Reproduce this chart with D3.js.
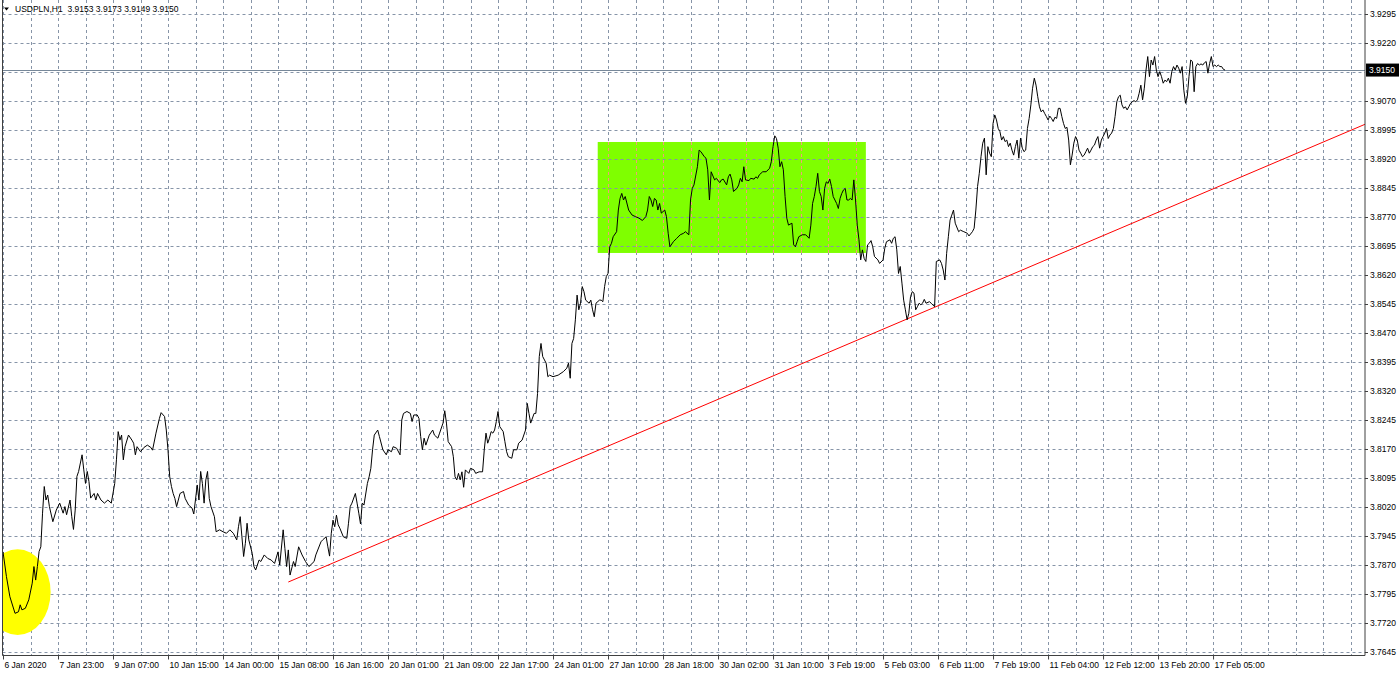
<!DOCTYPE html>
<html>
<head>
<meta charset="utf-8">
<script src="https://cdn.jsdelivr.net/npm/d3@7"></script>
<style>
    body { margin: 0; background: #fff; }
    svg { display: block; font-family: "Liberation Sans", Arial, sans-serif; }
</style>
</head>
<body>
<svg id="chart" width="1400" height="674"></svg>
<script>
// USDPLN H1 closes (bar = hours since first bar)
const symbolTitle = "USDPLN,H1  3.9153 3.9173 3.9149 3.9150";

const tickLabels = ["6 Jan 2020", "7 Jan 23:00", "9 Jan 07:00", "10 Jan 15:00", "14 Jan 00:00",
    "15 Jan 08:00", "16 Jan 16:00", "20 Jan 01:00", "21 Jan 09:00", "22 Jan 17:00", "24 Jan 01:00",
    "27 Jan 10:00", "28 Jan 18:00", "30 Jan 02:00", "31 Jan 10:00", "3 Feb 19:00", "5 Feb 03:00",
    "6 Feb 11:00", "7 Feb 19:00", "11 Feb 04:00", "12 Feb 12:00", "13 Feb 20:00", "17 Feb 05:00"];

const priceTicks = [3.9295, 3.9220, 3.9070, 3.8995, 3.8920, 3.8845, 3.8770, 3.8695, 3.8620,
    3.8545, 3.8470, 3.8395, 3.8320, 3.8245, 3.8170, 3.8095, 3.8020, 3.7945, 3.7870, 3.7795,
    3.7720, 3.7645];

const bars = [
    0, 2, 4, 7, 9, 10, 11, 13, 15, 17, 18, 19, 20, 21, 22, 23, 24, 25, 26, 27, 29, 31, 33, 35, 36, 37,
    39, 40, 41, 42, 43, 44, 46, 47, 48, 49, 50, 51, 53, 54, 55, 57, 59, 61, 63, 65, 66, 67, 68, 69, 70,
    71, 73, 75, 76, 77, 78, 80, 82, 84, 86, 87, 89, 91, 92, 94, 95, 96, 97, 98, 99, 100, 101, 103, 105,
    106, 108, 110, 111, 113, 114, 115, 116, 117, 118, 119, 120, 121, 123, 124, 126, 128, 130, 132, 134,
    136, 137, 138, 139, 140, 141, 142, 143, 145, 146, 147, 149, 150, 152, 154, 156, 158, 160, 161, 163,
    164, 165, 166, 167, 169, 170, 172, 174, 176, 178,
    181, 182, 185, 186, 188, 189, 190, 191, 192, 193, 194, 195, 196, 198, 200, 201, 202, 203, 205, 206,
    207, 208, 209, 210, 212, 213, 214, 215, 216, 218, 219, 221, 223, 224, 226, 227, 229, 231, 232, 233,
    235, 237, 238, 239, 241, 242, 243, 244, 245, 246, 248, 250, 251, 253, 254, 256, 257, 258, 259, 261,
    262, 263, 264, 265, 266, 267, 268, 269, 271, 272, 274, 275, 277, 279, 280, 281, 282, 283, 284, 285,
    286, 287, 288, 289, 291, 292, 293, 294, 296, 297, 299, 300, 302, 304, 305, 306, 307, 309, 310, 311,
    312, 313, 314, 316, 317, 318, 320, 323, 326, 328, 329, 330, 331, 332, 333, 334, 335, 336, 337, 338,
    339, 341, 342, 343, 344, 345, 347, 348,
    349, 350, 351, 352, 353, 354, 355, 357, 358, 359, 360, 361, 362, 364, 366, 368, 370, 372, 374, 375,
    376, 377, 378, 379, 380, 381, 382, 383, 385, 386, 387, 388, 390, 392, 394, 396, 397, 399, 400, 401,
    402, 404, 405, 406, 408, 409, 410, 411, 412, 414, 415, 417, 418, 419, 421, 422, 423, 424, 425, 427,
    428, 429, 430, 431, 432, 434, 435, 437, 438, 439, 440, 442, 444, 446, 447, 448, 449, 450, 451, 452,
    453, 454, 455, 456, 457, 459, 460, 461, 462, 463, 465, 467, 469, 470, 471, 472, 473, 474, 475, 476,
    477, 478, 479, 480, 481, 482, 483, 484, 485, 486, 487, 488, 489, 490, 491, 492, 493, 494, 495, 496,
    497, 498, 499, 500, 501, 502, 503, 504, 505, 506, 507, 509, 510, 512, 513, 514, 516, 517, 518, 519,
    520, 521, 522, 523, 524, 525, 526, 527, 528, 529, 530, 531, 532, 533, 534,
    535, 536, 537, 539, 540, 542, 543, 545, 546, 547, 548, 549, 550, 551, 552, 553, 554, 556, 557, 559,
    561, 562, 564, 565, 566, 567, 568, 569, 570, 571, 572, 573, 574, 575, 576, 577, 578, 579, 580, 581,
    582, 583, 584, 585, 586, 587, 588, 589, 590, 591, 592, 593, 594, 595, 596, 597, 598, 599, 600, 601,
    602, 603, 604, 605, 606, 607, 608, 609, 610, 611, 612, 613, 614, 615, 616, 617, 618, 619, 620, 621,
    622, 623, 624, 625, 626, 627, 628, 629, 630, 631, 632, 633, 634, 635, 636, 637, 638, 639, 640, 641,
    642, 643, 644, 645, 646, 647, 648, 649, 650, 651, 652, 653, 654, 655, 656, 657, 658, 659, 660, 661,
    662, 663, 664, 665, 666, 667, 668, 669, 670, 671, 672, 673, 674, 675, 676, 677, 678, 679, 680, 681,
    682, 683, 684, 685, 686, 687, 688, 689, 690, 691, 692, 693, 694, 695, 696, 697, 698, 699, 700, 701,
    702, 703, 704, 705, 706, 707, 708, 709, 710, 711];

const closes = [
    3.7904, 3.7840, 3.7788, 3.7745, 3.7749, 3.7767, 3.7754, 3.7758, 3.7780, 3.7823, 3.7866, 3.7831,
    3.7866, 3.7905, 3.7917, 3.8004, 3.8073, 3.8038, 3.8051, 3.8021, 3.7982, 3.8012, 3.8030, 3.8004,
    3.8021, 3.8000, 3.8038, 3.7995, 3.7962, 3.8012, 3.8099, 3.8112, 3.8155, 3.8116, 3.8081, 3.8112,
    3.8086, 3.8043, 3.8055, 3.8038, 3.8055, 3.8038, 3.8030, 3.8038, 3.8030, 3.8081, 3.8142, 3.8215,
    3.8193, 3.8206, 3.8142, 3.8176, 3.8206, 3.8193, 3.8185, 3.8155, 3.8176, 3.8163, 3.8174, 3.8180,
    3.8174, 3.8167, 3.8211, 3.8249, 3.8264, 3.8254, 3.8219, 3.8167, 3.8098, 3.8073, 3.8055, 3.8042,
    3.8021, 3.8055, 3.8060, 3.8042, 3.8025, 3.8017, 3.8002, 3.8077, 3.8038, 3.8112, 3.8081, 3.8030,
    3.8090, 3.8112, 3.8042, 3.8021, 3.7995, 3.7956, 3.7961, 3.7956, 3.7952, 3.7961, 3.7952, 3.7935,
    3.7969, 3.7995, 3.7943, 3.7892, 3.7926, 3.7978, 3.7935, 3.7900, 3.7866, 3.7857, 3.7883, 3.7879,
    3.7896, 3.7887, 3.7883, 3.7874, 3.7904, 3.7870, 3.7961, 3.7913, 3.7866, 3.7909, 3.7844, 3.7879,
    3.7866, 3.7917, 3.7896, 3.7879, 3.7866,
    3.7879, 3.7896, 3.7930, 3.7935, 3.7943, 3.7917, 3.7893, 3.7952, 3.7986, 3.7969, 3.7999, 3.7974,
    3.7965, 3.7943, 3.7939, 3.7978, 3.8021, 3.8030, 3.8055, 3.8030, 3.8004, 3.7976, 3.8030, 3.8025,
    3.8081, 3.8098, 3.8120, 3.8168, 3.8206, 3.8219, 3.8202, 3.8168, 3.8155, 3.8168, 3.8163, 3.8176,
    3.8172, 3.8155, 3.8245, 3.8262, 3.8267, 3.8262, 3.8241, 3.8258, 3.8258, 3.8249, 3.8202, 3.8168,
    3.8198, 3.8180, 3.8206, 3.8219, 3.8206, 3.8198, 3.8211, 3.8237, 3.8269, 3.8237, 3.8189, 3.8176,
    3.8150, 3.8098, 3.8090, 3.8107, 3.8090, 3.8111, 3.8071, 3.8116, 3.8107, 3.8120, 3.8116, 3.8107,
    3.8111, 3.8111, 3.8168, 3.8211, 3.8185, 3.8198, 3.8215, 3.8211, 3.8219, 3.8241, 3.8267, 3.8228,
    3.8215, 3.8189, 3.8163, 3.8150, 3.8146, 3.8168, 3.8168, 3.8185, 3.8193, 3.8219, 3.8288, 3.8262,
    3.8237, 3.8262, 3.8262, 3.8314, 3.8409, 3.8443, 3.8409, 3.8392, 3.8357, 3.8361, 3.8357, 3.8361,
    3.8370, 3.8379, 3.8392, 3.8353, 3.8443, 3.8456, 3.8504, 3.8568, 3.8530, 3.8547, 3.8590, 3.8577,
    3.8555, 3.8547, 3.8555, 3.8530, 3.8512, 3.8547, 3.8555, 3.8555,
    3.8551, 3.8590, 3.8616, 3.8624, 3.8693, 3.8702, 3.8719, 3.8732, 3.8788, 3.8818, 3.8831, 3.8814,
    3.8823, 3.8788, 3.8775, 3.8771, 3.8767, 3.8761, 3.8771, 3.8788, 3.8823, 3.8814, 3.8797, 3.8818,
    3.8814, 3.8788, 3.8805, 3.8780, 3.8788, 3.8771, 3.8728, 3.8693, 3.8706, 3.8715, 3.8724, 3.8728,
    3.8732, 3.8724, 3.8814, 3.8844, 3.8853, 3.8900, 3.8943, 3.8939, 3.8926, 3.8922, 3.8892, 3.8814,
    3.8887, 3.8866, 3.8870, 3.8859, 3.8866, 3.8868, 3.8853, 3.8874, 3.8881, 3.8866, 3.8836, 3.8844,
    3.8853, 3.8870, 3.8861, 3.8900, 3.8866, 3.8864, 3.8870, 3.8868, 3.8874, 3.8870, 3.8879, 3.8887,
    3.8887, 3.8896, 3.8913, 3.8952, 3.8980, 3.8973, 3.8948, 3.8900, 3.8913, 3.8892, 3.8823, 3.8767,
    3.8749, 3.8754, 3.8698, 3.8693, 3.8706, 3.8719, 3.8724, 3.8724, 3.8715, 3.8749, 3.8805, 3.8823,
    3.8849, 3.8883, 3.8836, 3.8823, 3.8788, 3.8844, 3.8861, 3.8857, 3.8868, 3.8849, 3.8823, 3.8814,
    3.8805, 3.8792, 3.8818, 3.8831, 3.8840, 3.8844, 3.8814, 3.8814, 3.8818, 3.8814, 3.8866, 3.8814,
    3.8749, 3.8711, 3.8659, 3.8685, 3.8663, 3.8655, 3.8698, 3.8702, 3.8709, 3.8693, 3.8668, 3.8659,
    3.8650, 3.8659, 3.8689, 3.8706, 3.8711, 3.8702, 3.8715, 3.8719, 3.8685, 3.8624, 3.8642, 3.8599,
    3.8555, 3.8530, 3.8504, 3.8521, 3.8564, 3.8577, 3.8573, 3.8530, 3.8538, 3.8547, 3.8543,
    3.8547, 3.8557, 3.8547, 3.8551, 3.8547, 3.8538, 3.8655, 3.8659, 3.8650, 3.8633, 3.8607, 3.8676,
    3.8719, 3.8762, 3.8775, 3.8788, 3.8754, 3.8732, 3.8736, 3.8732, 3.8728, 3.8721, 3.8732, 3.8741,
    3.8788, 3.8849, 3.8883, 3.8926, 3.8961, 3.8974, 3.8879, 3.8952, 3.8935, 3.8926, 3.9012, 3.9034,
    3.9021, 3.8999, 3.8991, 3.8969, 3.8978, 3.8965, 3.8969, 3.8952, 3.8961, 3.8943, 3.8930, 3.8952,
    3.8969, 3.8922, 3.8974, 3.8948, 3.8939, 3.8943, 3.8999, 3.9025, 3.9060, 3.9103, 3.9129, 3.9111,
    3.9081, 3.9055, 3.9042, 3.9047, 3.9038, 3.9030, 3.9021, 3.9031, 3.9025, 3.9017, 3.9028, 3.9025,
    3.9051, 3.9051, 3.9030, 3.9012, 3.8999, 3.9002, 3.8969, 3.8905, 3.8930, 3.8961, 3.8978, 3.8969,
    3.8943, 3.8935, 3.8926, 3.8930, 3.8939, 3.8948, 3.8935, 3.8943, 3.8952, 3.8956, 3.8969, 3.8978,
    3.8948, 3.8969, 3.8978, 3.8987, 3.8999, 3.8973, 3.8982, 3.8987, 3.8999, 3.9030, 3.9068, 3.9081,
    3.9085, 3.9060, 3.9051, 3.9055, 3.9047, 3.9055, 3.9064, 3.9068, 3.9071, 3.9068, 3.9073, 3.9090,
    3.9111, 3.9073, 3.9103, 3.9150, 3.9185, 3.9133, 3.9176, 3.9163, 3.9185, 3.9150, 3.9133, 3.9146,
    3.9133, 3.9116, 3.9124, 3.9120, 3.9129, 3.9116, 3.9146, 3.9159, 3.9150, 3.9163, 3.9155, 3.9142,
    3.9159, 3.9098, 3.9064, 3.9081, 3.9133, 3.9176, 3.9172, 3.9094, 3.9159, 3.9167, 3.9163, 3.9166,
    3.9163, 3.9169, 3.9172, 3.9142, 3.9167, 3.9185, 3.9159, 3.9163, 3.9159, 3.9163, 3.9159, 3.9159,
    3.9152, 3.9150];

const lastPrice = 3.9150;

// chart objects: trend ray, rectangle, ellipse (bar, price anchors)
const trendBars = [166, 520];
const trendPrices = [3.7826, 3.8495];
const boxBars = [346, 502];
const boxPrices = [3.8677, 3.8964];
const ellipseBar = 8.5;
const ellipsePrice = 3.7800;
const ellipseHalfBars = 19.2;
const ellipseHalfPrice = 0.0111;

const plotL = 2.5, plotR = 1365, plotT = 0, plotB = 655.5;
const gridColor = "#8795a8";
const fontSize = 8.5;

const svg = d3.select("#chart");

const x = d3.scaleLinear().domain([0, 792.4]).range([3, 1365]);
const y = d3.scaleLinear().domain([3.7645, 3.9295]).range([652, 14]);

svg.append("defs").append("clipPath").attr("id", "plot")
    .append("rect")
    .attr("x", plotL).attr("y", plotT)
    .attr("width", plotR - plotL).attr("height", plotB - plotT);

const plot = svg.append("g").attr("clip-path", "url(#plot)");

// vertical grid every 16 bars
const vGrid = d3.range(0, 800, 16);
plot.append("g").selectAll("line")
    .data(vGrid)
    .enter().append("line")
    .attr("x1", d => Math.round(x(d)) + 0.5)
    .attr("x2", d => Math.round(x(d)) + 0.5)
    .attr("y1", plotT).attr("y2", plotB)
    .attr("stroke", gridColor)
    .attr("stroke-dasharray", "3,3");

// green rectangle
const bx0 = x(boxBars[0]), bx1 = x(boxBars[1]);
const by0 = y(boxPrices[1]), by1 = y(boxPrices[0]);
plot.append("rect")
    .attr("x", bx0).attr("y", by0)
    .attr("width", bx1 - bx0).attr("height", by1 - by0)
    .attr("fill", "#7fff00");

// vertical grid shows pinkish inside the rectangle
plot.append("g").selectAll("line")
    .data(vGrid.filter(d => x(d) > bx0 && x(d) < bx1))
    .enter().append("line")
    .attr("x1", d => Math.round(x(d)) + 0.5)
    .attr("x2", d => Math.round(x(d)) + 0.5)
    .attr("y1", by0).attr("y2", by1)
    .attr("stroke", "#f49a7a")
    .attr("stroke-dasharray", "3,3");

// horizontal grid
const hGrid = d3.range(3.7645, 3.935, 0.0075);
plot.append("g").selectAll("line")
    .data(hGrid)
    .enter().append("line")
    .attr("x1", plotL).attr("x2", plotR)
    .attr("y1", d => Math.round(y(d)) + 0.5)
    .attr("y2", d => Math.round(y(d)) + 0.5)
    .attr("stroke", gridColor)
    .attr("stroke-dasharray", "3,3");

// yellow ellipse
plot.append("ellipse")
    .attr("cx", x(ellipseBar))
    .attr("cy", y(ellipsePrice))
    .attr("rx", x(ellipseHalfBars) - x(0))
    .attr("ry", y(ellipsePrice - ellipseHalfPrice) - y(ellipsePrice))
    .attr("fill", "#ffff00");

// bid line
plot.append("line")
    .attr("x1", plotL).attr("x2", plotR)
    .attr("y1", Math.round(y(lastPrice)) + 0.5)
    .attr("y2", Math.round(y(lastPrice)) + 0.5)
    .attr("stroke", "#778899");

// trend ray
const slope = (trendPrices[1] - trendPrices[0]) / (trendBars[1] - trendBars[0]);
const rayEnd = x.domain()[1];
plot.append("line")
    .attr("x1", x(trendBars[0])).attr("y1", y(trendPrices[0]))
    .attr("x2", x(rayEnd)).attr("y2", y(trendPrices[0] + slope * (rayEnd - trendBars[0])))
    .attr("stroke", "#ff0000")
    .attr("stroke-width", 1);

// price line
const series = bars.map((b, i) => [b, closes[i]]);
plot.append("path")
    .datum(series)
    .attr("fill", "none")
    .attr("stroke", "#000")
    .attr("stroke-width", 1)
    .attr("d", d3.line().x(d => x(d[0])).y(d => y(d[1])));

// frame
svg.append("path")
    .attr("d", `M${plotL},${plotT}V${plotB}H${plotR}V${plotT}`)
    .attr("fill", "none")
    .attr("stroke", "#404040");

// right price axis
const yAxis = svg.append("g")
    .attr("transform", `translate(${plotR},0)`)
    .call(d3.axisRight(y).tickValues(priceTicks).tickFormat(d3.format(".4f")).tickSize(3).tickPadding(2));
yAxis.select(".domain").remove();
yAxis.selectAll("line").attr("stroke", "#404040");
yAxis.selectAll("text").attr("font-size", fontSize).attr("fill", "#000")
    .attr("font-family", "Liberation Sans, Arial, sans-serif");

// current price label
const py = y(lastPrice);
svg.append("rect")
    .attr("x", plotR + 1).attr("y", py - 6.5)
    .attr("width", 33).attr("height", 13)
    .attr("fill", "#000");
svg.append("text")
    .attr("x", plotR + 4).attr("y", py + 3)
    .attr("font-size", fontSize).attr("fill", "#fff")
    .text(lastPrice.toFixed(4));

// bottom time axis
const xAxis = svg.append("g")
    .attr("transform", `translate(0,${plotB})`)
    .call(d3.axisBottom(x)
        .tickValues(tickLabels.map((d, i) => i * 32))
        .tickFormat((d, i) => tickLabels[i])
        .tickSize(4));
xAxis.select(".domain").remove();
xAxis.selectAll("line").attr("stroke", "#404040");
xAxis.selectAll("text")
    .attr("text-anchor", "start")
    .attr("x", 1)
    .attr("y", 6)
    .attr("font-size", fontSize).attr("fill", "#000")
    .attr("font-family", "Liberation Sans, Arial, sans-serif");

// symbol title
svg.append("path")
    .attr("d", "M4,7.5H9L6.5,10.5Z")
    .attr("fill", "#000");
svg.append("text")
    .attr("x", 15).attr("y", 12)
    .attr("font-size", fontSize)
    .attr("fill", "#000")
    .style("white-space", "pre")
    .text(symbolTitle);
</script>
</body>
</html>
